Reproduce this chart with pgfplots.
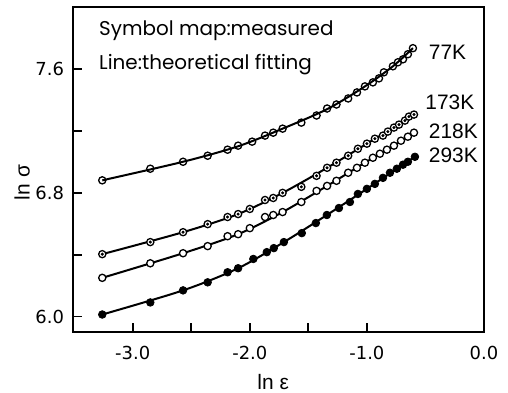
\documentclass[border=0pt]{standalone}
\usepackage{fontspec}
\setmainfont{Liberation Sans}
\newfontfamily\annfont{Poppins}
\newfontfamily\tickfont{DejaVu Sans}
\usepackage{pgfplots}
\usepackage{pgfplotstable}
\pgfplotsset{compat=1.18}

% measured points
\pgfplotstableread{
x y
-3.26 6.880
-2.85 6.955
-2.57 7.000
-2.36 7.039
-2.19 7.078
-2.10 7.104
-1.98 7.130
-1.87 7.169
-1.80 7.188
-1.72 7.214
-1.56 7.253
-1.43 7.299
-1.34 7.344
-1.26 7.370
-1.16 7.409
-1.085 7.448
-1.017 7.487
-0.949 7.513
-0.897 7.539
-0.855 7.578
-0.778 7.617
-0.735 7.643
-0.692 7.662
-0.650 7.695
-0.607 7.734
}\tseventyseven

\pgfplotstableread{
x y
-3.26 6.403
-2.85 6.481
-2.57 6.545
-2.36 6.597
-2.19 6.643
-2.10 6.662
-2.00 6.695
-1.87 6.753
-1.80 6.766
-1.72 6.799
-1.56 6.838
-1.43 6.909
-1.34 6.961
-1.26 6.994
-1.16 7.039
-1.077 7.084
-1.00 7.117
-0.932 7.149
-0.863 7.169
-0.821 7.195
-0.769 7.221
-0.726 7.240
-0.675 7.266
-0.641 7.292
-0.598 7.305
}\tonesevenththree

\pgfplotstableread{
x y
-3.26 6.250
-2.85 6.344
-2.57 6.409
-2.36 6.455
-2.19 6.519
-2.10 6.532
-2.00 6.571
-1.87 6.643
-1.80 6.656
-1.72 6.675
-1.56 6.740
-1.43 6.812
-1.34 6.844
-1.26 6.877
-1.16 6.929
-1.085 6.961
-1.017 6.994
-0.949 7.026
-0.889 7.052
-0.829 7.078
-0.769 7.104
-0.709 7.136
-0.650 7.162
-0.598 7.188
}\ttwooneeight

\pgfplotstableread{
x y
-3.26 6.013
-2.85 6.091
-2.57 6.169
-2.36 6.221
-2.19 6.286
-2.10 6.312
-1.97 6.372
-1.855 6.416
-1.795 6.442
-1.709 6.481
-1.556 6.539
-1.436 6.604
-1.342 6.656
-1.239 6.701
-1.145 6.740
-1.077 6.792
-1.00 6.825
-0.932 6.857
-0.863 6.896
-0.803 6.929
-0.744 6.955
-0.692 6.981
-0.650 7.000
-0.590 7.032
}\ttwoninethree

% theoretical fitting lines
\pgfplotstableread{
x y
-3.26 6.880
-2.57 7.000
-2.10 7.100
-1.72 7.214
-1.34 7.340
-1.017 7.487
-0.778 7.617
-0.607 7.734
}\lseventyseven

\pgfplotstableread{
x y
-3.26 6.403
-2.57 6.545
-2.10 6.662
-1.72 6.799
-1.34 6.961
-1.00 7.117
-0.769 7.221
-0.598 7.305
}\lonesevenththree

\pgfplotstableread{
x y
-3.26 6.250
-2.57 6.409
-2.10 6.532
-1.72 6.675
-1.34 6.844
-1.017 6.994
-0.769 7.104
-0.598 7.188
}\ltwooneeight

\pgfplotstableread{
x y
-3.26 6.013
-2.57 6.169
-2.10 6.312
-1.709 6.481
-1.342 6.656
-1.00 6.825
-0.744 6.955
-0.590 7.032
}\ltwoninethree

\begin{document}
\begin{tikzpicture}
\begin{axis}[
  scale only axis, width=205.5bp, height=162.5bp,
  xmin=-3.51, xmax=0, ymin=5.9, ymax=8.0,
  axis line style={line width=1.1bp},
  xtick={-3,-2,-1,0}, xticklabels={-3.0,-2.0,-1.0,0.0},
  minor xtick={-2.5,-1.5},
  ytick={6.0,6.8,7.6}, yticklabels={6.0,6.8,7.6},
  minor ytick={6.4,7.2},
  xtick pos=bottom, ytick pos=left, tick align=inside,
  major tick length=4.5bp, minor tick length=4.5bp,
  every tick/.style={line width=0.9bp, black},
  ticklabel style={font=\tickfont\fontsize{9}{10}\selectfont},
  xticklabel style={yshift=-3.5bp},
  yticklabel style={xshift=-1bp},
  xlabel={ln ε}, ylabel={ln σ},
  label style={font=\fontsize{10.5}{12}\selectfont},
  xlabel style={at={(axis description cs:0.487,0)}, anchor=base, yshift=-28.5bp},
  ylabel style={at={(axis description cs:-0.124,0.46)}, anchor=center},
  clip=false,
]
% fitting lines
\addplot[line width=1bp, smooth, tension=0.5] table[x=x,y=y] {\lseventyseven};
\addplot[line width=1bp, smooth, tension=0.5] table[x=x,y=y] {\lonesevenththree};
\addplot[line width=1bp, smooth, tension=0.5] table[x=x,y=y] {\ltwooneeight};
\addplot[line width=1bp, smooth, tension=0.5] table[x=x,y=y] {\ltwoninethree};
% symbols
\addplot[only marks, mark=o, mark size=1.8bp, mark options={line width=0.65bp}] table[x=x,y=y] {\tseventyseven};
\addplot[only marks, mark=*, mark size=1.8bp, mark options={fill=white, line width=0.65bp}] table[x=x,y=y] {\tonesevenththree};
\addplot[only marks, mark=*, mark size=0.55bp] table[x=x,y=y] {\tonesevenththree};
\addplot[only marks, mark=*, mark size=1.8bp, mark options={fill=white, line width=0.65bp}] table[x=x,y=y] {\ttwooneeight};
\addplot[only marks, mark=*, mark size=1.9bp] table[x=x,y=y] {\ttwoninethree};
% labels
\node[anchor=west, font=\fontsize{10.5}{12}\selectfont] at (axis cs:-0.53,7.708) {77K};
\node[anchor=west, font=\fontsize{10.5}{12}\selectfont] at (axis cs:-0.56,7.383) {173K};
\node[anchor=west, font=\fontsize{10.5}{12}\selectfont] at (axis cs:-0.53,7.195) {218K};
\node[anchor=west, font=\fontsize{10.5}{12}\selectfont] at (axis cs:-0.53,7.040) {293K};
\node[anchor=base west, inner sep=0pt, font=\annfont\fontsize{10}{12}\selectfont] at (axis cs:-3.29,7.818) {Symbol map:measured};
\node[anchor=base west, inner sep=0pt, font=\annfont\fontsize{10}{12}\selectfont] at (axis cs:-3.29,7.597) {Line:theoretical fitting};
\end{axis}
\pgfresetboundingbox
\path[use as bounding box] ([shift={(-36.5bp,-30.5bp)}]current axis.south west) rectangle ([shift={(12bp,3.5bp)}]current axis.north east);
\end{tikzpicture}
\end{document}
